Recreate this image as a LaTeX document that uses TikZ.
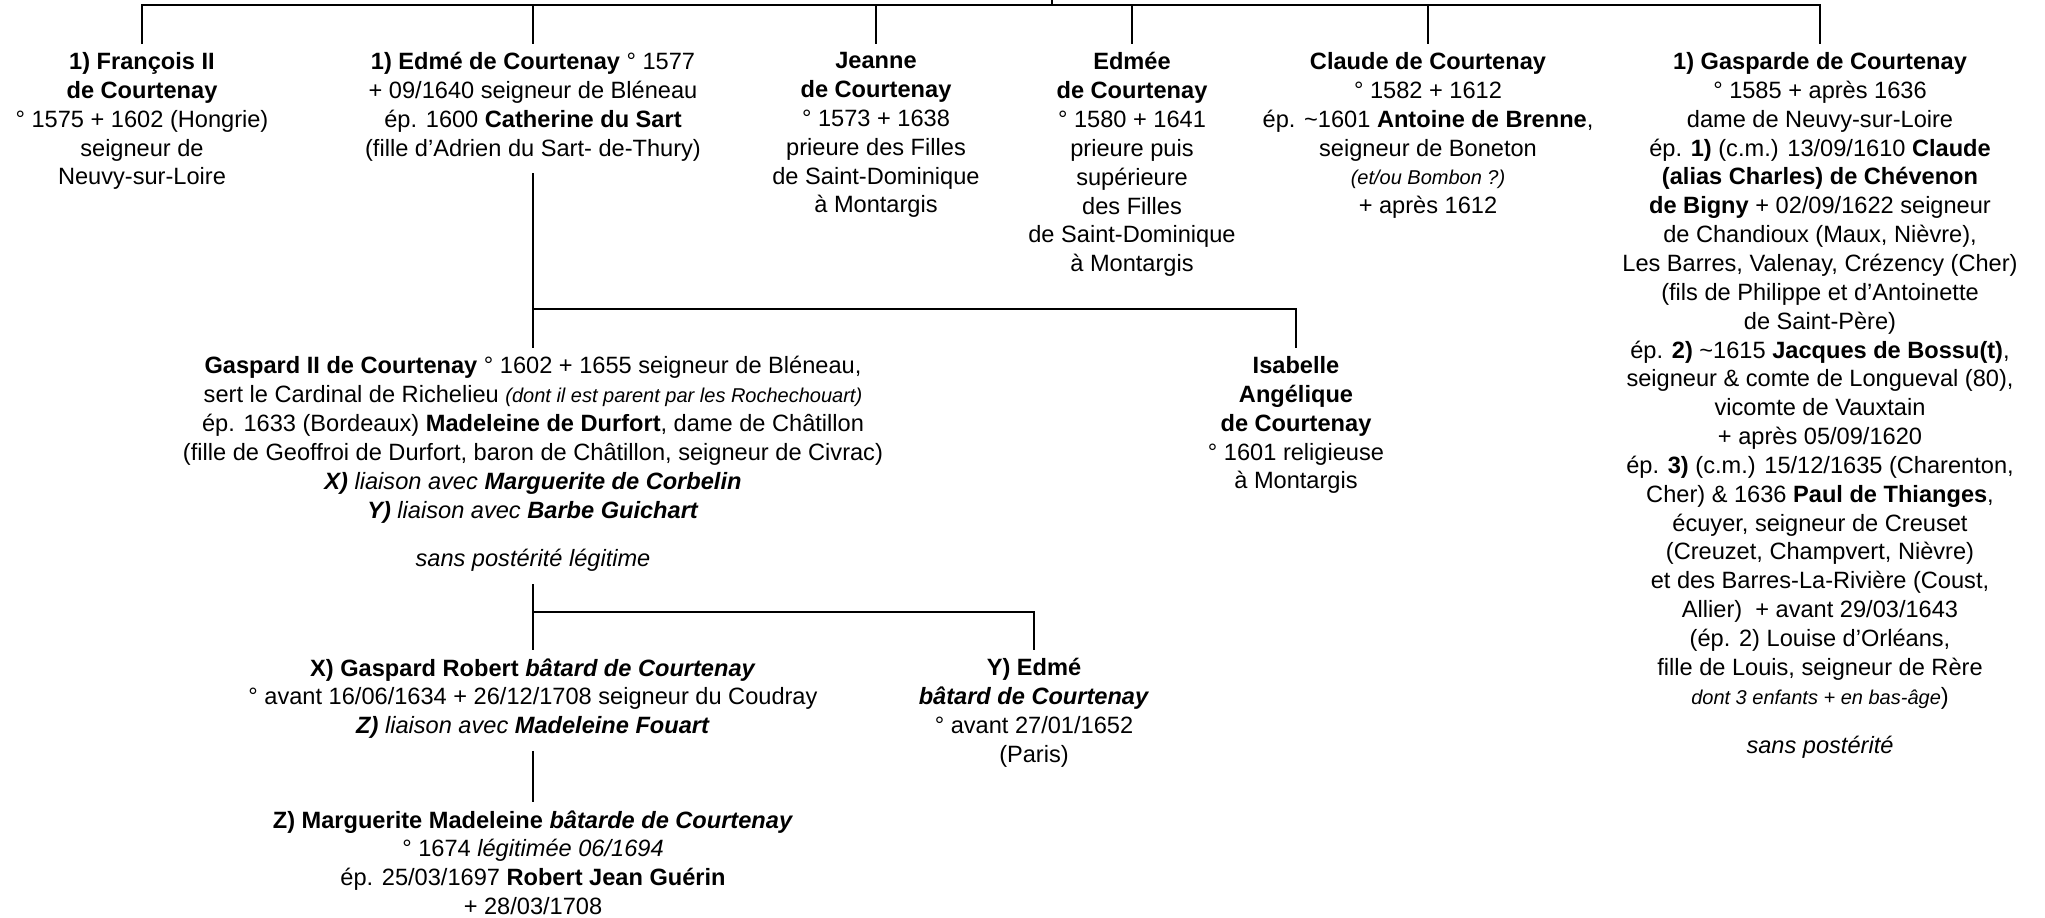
\documentclass[tikz,border=0pt]{standalone}
\usepackage{fontspec}
\setmainfont{Liberation Sans}
\tikzset{
  person/.style={align=center, inner sep=0pt, outer xsep=0pt, outer ysep=4.25pt, anchor=north,
    font=\fontsize{11.8}{14.42}\selectfont, execute at begin node=\strut},
  link/.style={draw=black, line width=1.4pt},
}
\newcommand{\smit}[1]{{\fontsize{10}{14.42}\selectfont\itshape #1}}
\begin{document}
\begin{tikzpicture}[x=0.5pt,y=-0.5pt]
\useasboundingbox (0,0) rectangle (2045,917);
% generation 1
\node[person] (francois) at (142,44) {\textbf{1) François II}\\ \textbf{de Courtenay}\\ ° 1575 + 1602 (Hongrie)\\ seigneur de\\ Neuvy-sur-Loire};
\node[person] (edme) at (533,44) {\textbf{1) Edmé de Courtenay} ° 1577\\ + 09/1640 seigneur de Bléneau\\ ép. 1600 \textbf{Catherine du Sart}\\ (fille d’Adrien du Sart- de-Thury)};
\node[person] (jeanne) at (876,44) {\textbf{Jeanne}\\ \textbf{de Courtenay}\\ ° 1573 + 1638\\ prieure des Filles\\ de Saint-Dominique\\ à Montargis};
\node[person] (edmee) at (1132,44) {\textbf{Edmée}\\ \textbf{de Courtenay}\\ ° 1580 + 1641\\ prieure puis\\ supérieure\\ des Filles\\ de Saint-Dominique\\ à Montargis};
\node[person] (claude) at (1428,44) {\textbf{Claude de Courtenay}\\ ° 1582 + 1612\\ ép. \textasciitilde1601 \textbf{Antoine de Brenne},\\ seigneur de Boneton\\ \smit{(et/ou Bombon ?)}\\ + après 1612};
\node[person] (gasparde) at (1820,44) {\textbf{1) Gasparde de Courtenay}\\
° 1585 + après 1636\\
dame de Neuvy-sur-Loire\\
ép. \textbf{1)} (c.m.) 13/09/1610 \textbf{Claude}\\
\textbf{(alias Charles) de Chévenon}\\
\textbf{de Bigny} + 02/09/1622 seigneur\\
de Chandioux (Maux, Nièvre),\\
Les Barres, Valenay, Crézency (Cher)\\
(fils de Philippe et d’Antoinette\\
de Saint-Père)\\
ép. \textbf{2)} \textasciitilde1615 \textbf{Jacques de Bossu(t)},\\
seigneur \& comte de Longueval (80),\\
vicomte de Vauxtain\\
+ après 05/09/1620\\
ép. \textbf{3)} (c.m.) 15/12/1635 (Charenton,\\
Cher) \& 1636 \textbf{Paul de Thianges},\\
écuyer, seigneur de Creuset\\
(Creuzet, Champvert, Nièvre)\\
et des Barres-La-Rivière (Coust,\\
Allier)\ \ + avant 29/03/1643\\
(ép. 2) Louise d’Orléans,\\
fille de Louis, seigneur de Rère\\
\smit{dont 3 enfants + en bas-âge})\\[10.5pt]
\textit{sans postérité}};
% generation 2
\node[person] (gaspard) at (533,348) {\textbf{Gaspard II de Courtenay} ° 1602 + 1655 seigneur de Bléneau,\\
sert le Cardinal de Richelieu \smit{(dont il est parent par les Rochechouart)}\\
ép. 1633 (Bordeaux) \textbf{Madeleine de Durfort}, dame de Châtillon\\
(fille de Geoffroi de Durfort, baron de Châtillon, seigneur de Civrac)\\
\textbf{\textit{X)}} \textit{liaison avec} \textbf{\textit{Marguerite de Corbelin}}\\
\textbf{\textit{Y)}} \textit{liaison avec} \textbf{\textit{Barbe Guichart}}\\[10pt]
\textit{sans postérité légitime}};
\node[person] (isabelle) at (1296,348) {\textbf{Isabelle}\\ \textbf{Angélique}\\ \textbf{de Courtenay}\\ ° 1601 religieuse\\ à Montargis};
% generation 3
\node[person] (xgr) at (533,650) {\textbf{X) Gaspard Robert \textit{bâtard de Courtenay}}\\ ° avant 16/06/1634 + 26/12/1708 seigneur du Coudray\\ \textbf{\textit{Z)}} \textit{liaison avec} \textbf{\textit{Madeleine Fouart}}};
\node[person] (yedme) at (1034,650) {\textbf{Y) Edmé}\\ \textbf{\textit{bâtard de Courtenay}}\\ ° avant 27/01/1652\\ (Paris)};
% generation 4
\node[person] (zmm) at (533,802) {\textbf{Z) Marguerite Madeleine \textit{bâtarde de Courtenay}}\\ ° 1674 \textit{légitimée 06/1694}\\ ép. 25/03/1697 \textbf{Robert Jean Guérin}\\ + 28/03/1708};
% connectors
\coordinate (root) at (1052,0);
\coordinate (bus) at (1052,5);
\coordinate (bus2) at (533,309);
\coordinate (bus3) at (533,612);
\draw[link] (root) -- (bus);
\draw[link] (francois.north) |- (gasparde.north |- bus) -- (gasparde.north);
\foreach \n in {edme,jeanne,edmee,claude} \draw[link] (\n.north |- bus) -- (\n.north);
\draw[link] (edme.south) -- (gaspard.north);
\draw[link] (bus2) -| (isabelle.north);
\draw[link] (gaspard.south) -- (xgr.north);
\draw[link] (bus3) -| (yedme.north);
\draw[link] (xgr.south) -- (zmm.north);
\end{tikzpicture}
\end{document}
